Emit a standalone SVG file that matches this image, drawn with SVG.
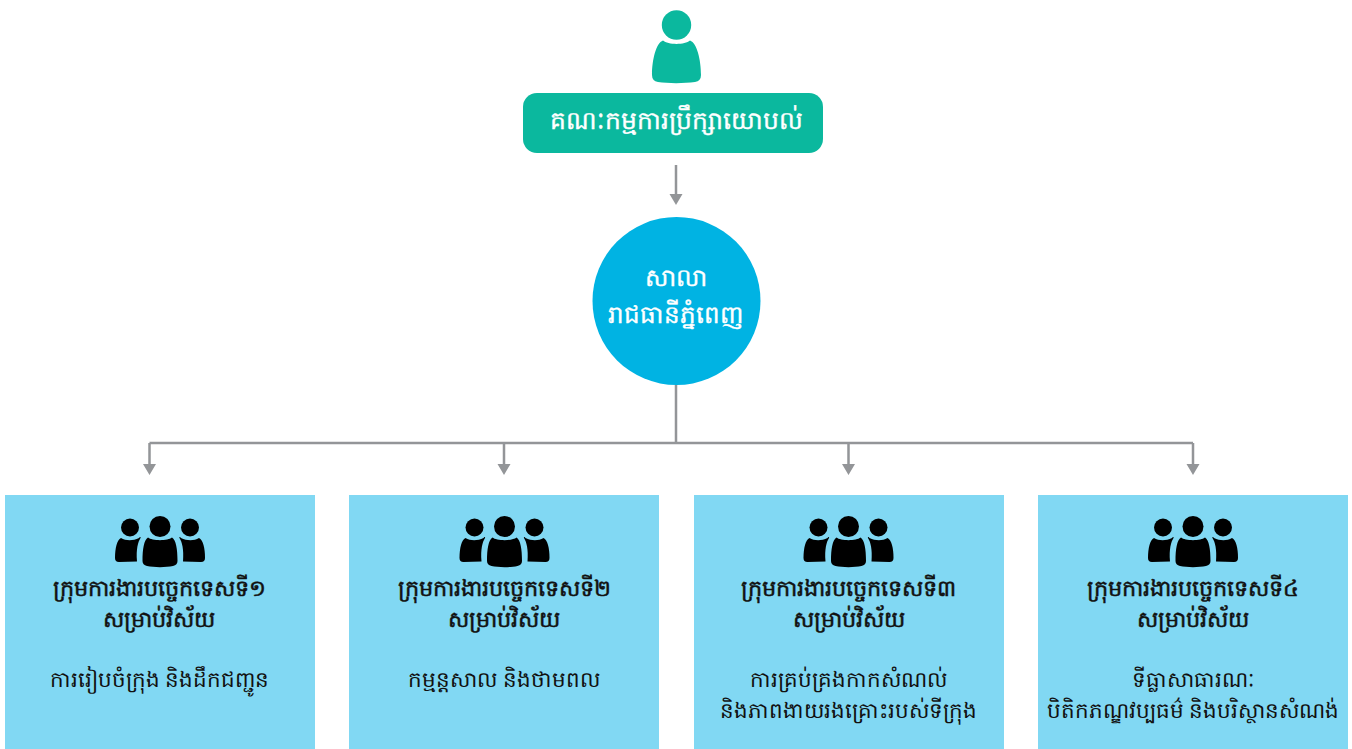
<svg xmlns="http://www.w3.org/2000/svg" width="1352" height="749" viewBox="0 0 1352 749">
<style>
text{font-family:"Noto Sans","DejaVu Sans","Liberation Sans",sans-serif;text-anchor:middle}
.w{fill:#fff;font-size:25px;stroke:#fff;stroke-width:.35px}
.w2{font-size:24.600px}
.h{fill:#111;font-size:22.400px;stroke:#111;stroke-width:.5px}
.b{fill:#111;font-size:21.500px}
.box{fill:#81d8f3}
.c{fill:none;stroke:#939598;stroke-width:2.500}
</style>
<defs>
<g id="trio">
<circle cx="-30" cy="-19.500" r="9"/>
<path d="M-39,-9C-34,-6 -27,-6 -21,-9C-20,-10.500 -19,-10 -19.500,-9C-22,-5 -24,2 -23,14.500L-41,15Q-45,15 -45,11C-45,1 -43,-7 -39,-9Z"/>
<circle cx="0" cy="-20.500" r="10.500"/>
<path d="M-12,-9.500C-8,-6 8,-6 12,-9.500C16,-7 17.500,2 17.500,14Q17.500,18 13,19C6,20.500 -6,20.500 -13,19Q-17.500,18 -17.500,14C-17.500,2 -16,-7 -12,-9.500Z"/>
<circle cx="30" cy="-19.500" r="9"/>
<path d="M39,-9C34,-6 27,-6 21,-9C20,-10.500 19,-10 19.500,-9C22,-5 24,2 23,14.500L41,15Q45,15 45,11C45,1 43,-7 39,-9Z"/>
</g>
</defs>
<g id="connectors">
<path class="c" d="M676,165V196"/><path d="M669.500,194H682.500L676,205Z" fill="#939598"/>
<path class="c" d="M676,385V443M149.500,443H1193M149.500,443V465M504,443V465M848.500,443V465M1193,443V465"/>
<path d="M143,464H156L149.500,475Z M497.500,464H510.500L504,475Z M842,464H855L848.500,475Z M1186.500,464H1199.500L1193,475Z" fill="#939598"/>
</g>
<g id="advisory">
<circle cx="676.500" cy="25" r="14.700" fill="#0bb89e"/>
<path d="M663,40.500C668,45 685,45 690,40.500C697,43 701,60 701,75Q701,81 695,82C684,83.500 668,83.500 658,82Q652,81 652,75C652,60 656,43 663,40.500Z" fill="#0bb89e"/>
<rect x="523" y="93" width="300" height="60" rx="14" fill="#0bb89e"/>
<text class="w" x="676.500" y="129">គណៈកម្មការប្រឹក្សាយោបល់</text>
</g>
<g id="hall">
<circle cx="676.500" cy="301" r="84" fill="#00b3e3"/>
<text class="w w2" x="675.500" y="286">សាលា</text>
<text class="w w2" x="675.500" y="323">រាជធានីភ្នំពេញ</text>
</g>
<g id="team1">
<rect class="box" x="5" y="495" width="310" height="254"/>
<use href="#trio" x="160" y="547"/>
<text class="h" x="159" y="596">ក្រុមការងារបច្ចេកទេសទី១</text>
<text class="h" x="159" y="627">សម្រាប់វិស័យ</text>
<text class="b" x="159.500" y="687">ការរៀបចំក្រុង និងដឹកជញ្ជូន</text>
</g>
<g id="team2">
<rect class="box" x="349" y="495" width="310" height="254"/>
<use href="#trio" x="504.500" y="547"/>
<text class="h" x="504" y="596">ក្រុមការងារបច្ចេកទេសទី២</text>
<text class="h" x="504" y="627">សម្រាប់វិស័យ</text>
<text class="b" x="504" y="687">កម្មន្តសាល និងថាមពល</text>
</g>
<g id="team3">
<rect class="box" x="694" y="495" width="310" height="254"/>
<use href="#trio" x="848.500" y="547"/>
<text class="h" x="848.500" y="596">ក្រុមការងារបច្ចេកទេសទី៣</text>
<text class="h" x="848.500" y="627">សម្រាប់វិស័យ</text>
<text class="b" x="848.500" y="687">ការគ្រប់គ្រងកាកសំណល់</text>
<text class="b" x="848.500" y="718">និងភាពងាយរងគ្រោះរបស់ទីក្រុង</text>
</g>
<g id="team4">
<rect class="box" x="1038" y="495" width="310" height="254"/>
<use href="#trio" x="1193" y="547"/>
<text class="h" x="1193" y="596">ក្រុមការងារបច្ចេកទេសទី៤</text>
<text class="h" x="1193" y="627">សម្រាប់វិស័យ</text>
<text class="b" x="1193" y="687">ទីធ្លាសាធារណៈ</text>
<text class="b" x="1193" y="718">បិតិកភណ្ឌវប្បធម៌ និងបរិស្ថានសំណង់</text>
</g>
</svg>
